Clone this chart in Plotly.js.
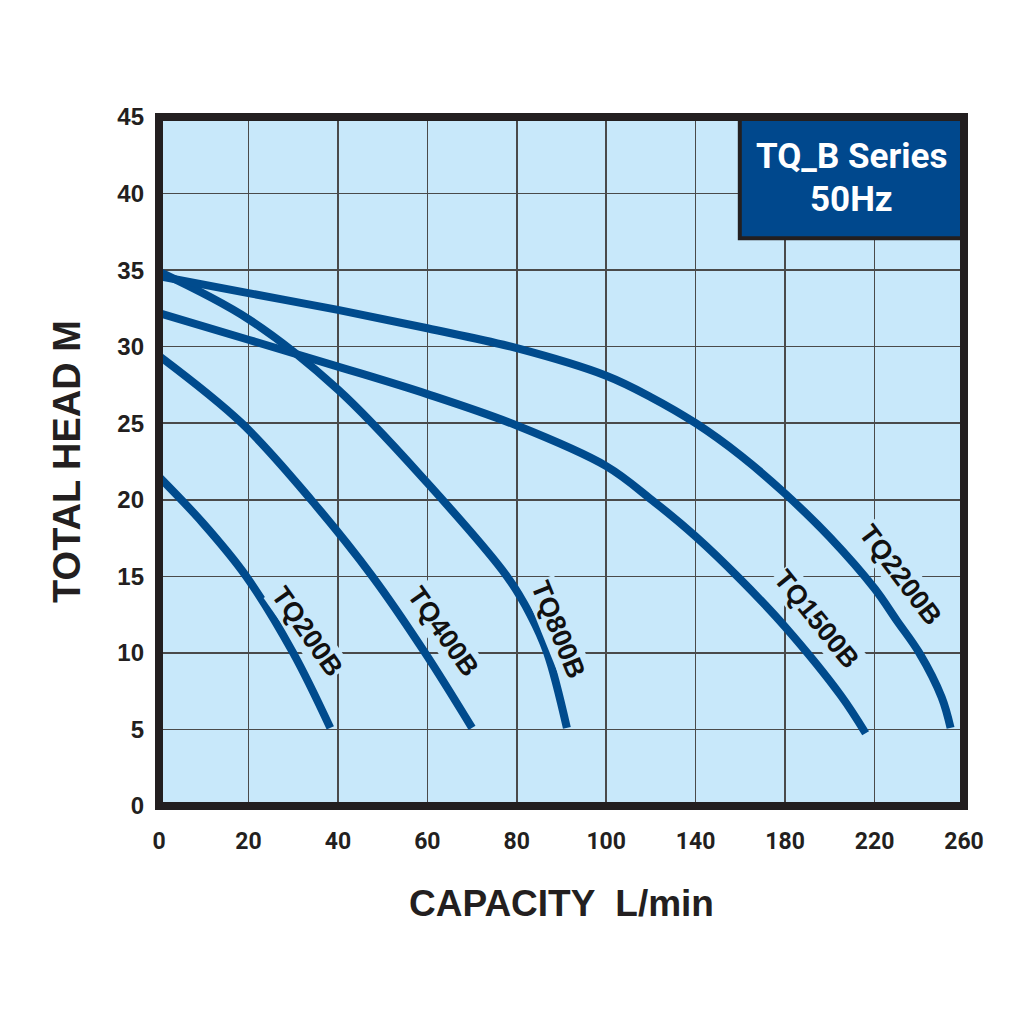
<!DOCTYPE html>
<html>
<head>
<meta charset="utf-8">
<script src="https://cdn.plot.ly/plotly-3.0.1.min.js"></script>
<style>html,body{margin:0;padding:0;background:#fff;}#chart{width:1024px;height:1024px;}</style>
</head>
<body>
<div id="chart"></div>
<script>
// Capacity tick values (non-uniform axis: equal spacing per tick)
const capacityTicks = [0, 20, 40, 60, 80, 100, 140, 180, 220, 260];
const headTicks = [0, 5, 10, 15, 20, 25, 30, 35, 40, 45];

// Series: capacity (L/min) and total head (m)
const tq200bCap  = [0, 9.75, 19.5, 30, 38.3];
const tq200bHead = [21.5, 18.5, 15, 10, 5.1];

const tq400bCap  = [0, 18.5, 34, 47.7, 59.5, 70];
const tq400bHead = [29.4, 25, 20, 15, 10, 5.1];

const tq800bCap  = [0, 20, 40, 60, 77.8, 83, 86.8, 91.2];
const tq800bHead = [34.9, 31.8, 27.2, 21.1, 15, 12.5, 10, 5.1];

const tq1500bCap  = [0, 20, 40, 60, 80, 100, 120.3, 140, 160, 180, 205, 216];
const tq1500bHead = [32.2, 30.45, 28.7, 26.9, 24.85, 22.2, 20, 17.6, 14.8, 11.7, 7.2, 4.75];

const tq2200bCap  = [0, 20, 40, 60, 80, 100, 120, 140, 160, 180, 200, 220, 230, 240, 250, 254];
const tq2200bHead = [34.6, 33.5, 32.4, 31.2, 29.9, 28.1, 26.7, 25, 22.9, 20.4, 17.55, 14.2, 12.1, 10, 7.1, 5.1];

const seriesNames = ['TQ200B', 'TQ400B', 'TQ800B', 'TQ1500B', 'TQ2200B'];

// map capacity to evenly-spaced tick index (axis drawn with equal spacing per tick)
function capToPos(c) {
  for (let i = 0; i < capacityTicks.length - 1; i++) {
    const a = capacityTicks[i], b = capacityTicks[i + 1];
    if (c <= b) return i + (c - a) / (b - a);
  }
  return capacityTicks.length - 1;
}

const lineColor = '#004b8d';
const bg = '#c8e8fa';
const caps = [tq200bCap, tq400bCap, tq800bCap, tq1500bCap, tq2200bCap];
const heads = [tq200bHead, tq400bHead, tq800bHead, tq1500bHead, tq2200bHead];

const traces = caps.map((c, i) => ({
  type: 'scatter', mode: 'lines', name: seriesNames[i],
  x: c.map(capToPos), y: heads[i],
  line: {color: lineColor, width: 8, shape: 'spline', smoothing: 1},
  hoverinfo: 'x+y+name', showlegend: false
}));

// label placement (capacity, head, angle)
const labelCap = [33, 63.4, 89.3, 194, 231.6];
const labelHead = [11.4, 11.4, 11.5, 12.2, 15.1];
const labelAngle = [55, 55, 68, 51, 53];

const annotations = seriesNames.map((n, i) => ({
  x: capToPos(labelCap[i]), y: labelHead[i], xref: 'x', yref: 'y',
  text: '<b>' + n + '</b>', showarrow: false, textangle: labelAngle[i],
  font: {family: 'Liberation Sans, Arial, sans-serif', size: 27, color: '#111'},
  bgcolor: bg, borderpad: 1
}));

annotations.push({
  xref: 'paper', yref: 'paper', x: 0.8603, y: 0.9430, xanchor: 'center', yanchor: 'middle',
  text: '<b>TQ_B Series</b>', showarrow: false,
  font: {family: 'Roboto, sans-serif', size: 35, color: '#ffffff'}
});
annotations.push({
  xref: 'paper', yref: 'paper', x: 0.8603, y: 0.8805, xanchor: 'center', yanchor: 'middle',
  text: '<b>50Hz</b>', showarrow: false,
  font: {family: 'Roboto, sans-serif', size: 35, color: '#ffffff'}
});

const layout = {
  width: 1024, height: 1024,
  margin: {l: 159, r: 60, t: 117, b: 218},
  paper_bgcolor: '#ffffff', plot_bgcolor: bg,
  xaxis: {
    range: [0, capacityTicks.length - 1],
    tickmode: 'array', tickvals: capacityTicks.map(capToPos), ticktext: capacityTicks.map(String),
    showgrid: true, gridcolor: '#4a4a4a', gridwidth: 1.5, zeroline: false, showline: false,
    ticks: '', ticklabelstandoff: 19,
    tickfont: {family: 'Roboto, sans-serif', size: 23, color: '#231f20', weight: 'bold'},
    title: {text: '<b>CAPACITY  L/min</b>', standoff: 36,
      font: {family: 'Liberation Sans, Arial, sans-serif', size: 37, color: '#231f20'}},
    automargin: false, fixedrange: true
  },
  yaxis: {
    range: [0, 45], tickmode: 'array', tickvals: headTicks,
    showgrid: true, gridcolor: '#4a4a4a', gridwidth: 1.5, zeroline: false, showline: false,
    ticks: '', ticklabelstandoff: 14,
    tickfont: {family: 'Liberation Sans, Arial, sans-serif', size: 24, color: '#231f20', weight: 'bold'},
    title: {text: '<b>TOTAL HEAD M</b>', standoff: 24,
      font: {family: 'Liberation Sans, Arial, sans-serif', size: 38, color: '#231f20'}},
    automargin: false, fixedrange: true
  },
  shapes: [
    {type: 'rect', xref: 'paper', yref: 'paper', x0: 0.7215, x1: 1, y0: 0.824, y1: 1,
     fillcolor: '#00488d', line: {color: '#231f20', width: 4}, layer: 'above'},
    {type: 'rect', xref: 'paper', yref: 'paper', x0: 0, x1: 1, y0: 0, y1: 1,
     fillcolor: 'rgba(0,0,0,0)', line: {color: '#231f20', width: 8}, layer: 'above'}
  ],
  annotations: annotations
};

Plotly.newPlot('chart', traces, layout, {displayModeBar: false, staticPlot: true});
</script>
</body>
</html>
